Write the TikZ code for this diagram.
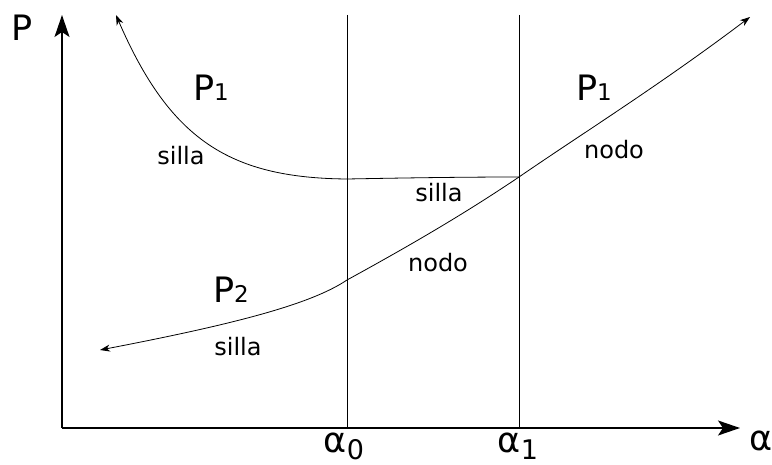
\documentclass[tikz,border=0pt]{standalone}
\usepackage{fontspec}
\setmainfont{DejaVu Sans}
\usetikzlibrary{arrows.meta}
\newcommand{\subdig}[1]{\raisebox{0pt}{\fontsize{23}{25}\selectfont #1}}
\tikzset{
  axis/.style={line width=1.4pt,-{Stealth[length=22pt,width=15pt,inset=5pt]}},
  guide/.style={line width=0.9pt},
  curve/.style={line width=0.8pt},
  curvetip/.style={-{Stealth[length=10pt,width=7pt,inset=3pt]}},
  lbl/.style={font=\fontsize{24}{26}\selectfont, inner sep=0pt},
  plbl/.style={font=\fontsize{35}{38}\selectfont, inner sep=0pt},
  albl/.style={font=\fontsize{35}{38}\selectfont, inner sep=0pt},
}
\begin{document}
\begin{tikzpicture}[x=1pt,y=-1pt]
\useasboundingbox (0,0) rectangle (772,465);
% axes
\coordinate (O) at (62,428);
\coordinate (Ytop) at (62,15);
\coordinate (Xend) at (740,428);
\draw[axis] (O) -- (Ytop);
\draw[axis] (O) -- (Xend);
\node[plbl] (P) at (22,28) {P};
\node[albl] (al) at (761,441) {α};
% guides
\coordinate (a0t) at (347,15);
\coordinate (a0b) at (347,428);
\coordinate (a1t) at (519,15);
\coordinate (a1b) at (519,428);
\draw[guide] (a0t) -- (a0b);
\draw[guide] (a1t) -- (a1b);
\node[albl] (al0) at (344,446) {α\raisebox{-7pt}{\fontsize{27}{29}\selectfont 0}};
\node[albl] (al1) at (518,446) {α\raisebox{-7pt}{\fontsize{27}{29}\selectfont 1}};
% upper curve
\coordinate (U0) at (116,15);
\coordinate (Um) at (347,179);
\coordinate (Ux) at (519,177);
\draw[curve,curvetip] (Um) .. controls (230,178) and (170,140) .. (U0);
\draw[curve] (Um) .. controls (400,178) and (460,177) .. (Ux);
% lower curve
\coordinate (L0) at (100,350);
\coordinate (Lm) at (347,280);
\coordinate (L1) at (750,17);
\draw[curve,curvetip] (Lm) .. controls (310,305) and (230,325) .. (L0);
\draw[curve,curvetip] (Lm) .. controls (420,240) and (470,210) .. (Ux)
  .. controls (580,135) and (660,85) .. (L1);
% labels
\node[plbl] (p1a) at (211,88) {P\subdig{1}};
\node[plbl] (p1b) at (594,88) {P\subdig{1}};
\node[plbl] (p2) at (231,290) {P\subdig{2}};
\node[lbl] (s1) at (181,156) {silla};
\node[lbl] (n1) at (614,150) {nodo};
\node[lbl] (s2) at (439,193) {silla};
\node[lbl] (n2) at (438,263) {nodo};
\node[lbl] (s3) at (238,347) {silla};
\end{tikzpicture}
\end{document}
